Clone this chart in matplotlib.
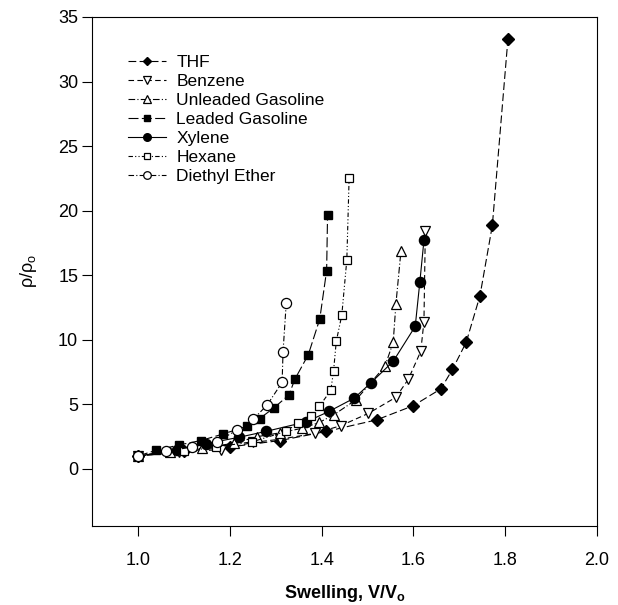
import matplotlib.pyplot as plt

plt.rcParams['font.family'] = ['Liberation Sans', 'DejaVu Sans']

# ---- data ----
thf_x = [1.0, 1.10, 1.20, 1.31, 1.41, 1.52, 1.60, 1.66, 1.685, 1.715, 1.745, 1.772, 1.806]
thf_y = [1.0, 1.35, 1.7, 2.2, 2.9, 3.8, 4.9, 6.2, 7.7, 9.8, 13.4, 18.85, 33.3]

benz_x = [1.0, 1.09, 1.18, 1.25, 1.31, 1.385, 1.442, 1.502, 1.562, 1.589, 1.616, 1.623, 1.626]
benz_y = [1.0, 1.3, 1.5, 2.05, 2.3, 2.75, 3.35, 4.3, 5.55, 6.95, 9.1, 11.4, 18.4]

unl_x = [1.0, 1.07, 1.14, 1.21, 1.26, 1.31, 1.358, 1.395, 1.427, 1.475, 1.538, 1.556, 1.562, 1.573]
unl_y = [1.0, 1.3, 1.6, 2.0, 2.5, 2.8, 3.15, 3.6, 4.2, 5.35, 7.95, 9.8, 12.8, 16.9]

lead_x = [1.0, 1.04, 1.089, 1.137, 1.185, 1.237, 1.265, 1.297, 1.329, 1.342, 1.371, 1.396, 1.411, 1.413]
lead_y = [1.0, 1.45, 1.85, 2.2, 2.7, 3.3, 3.9, 4.75, 5.74, 6.96, 8.84, 11.6, 15.36, 19.65]

xyl_x = [1.0, 1.085, 1.148, 1.22, 1.278, 1.367, 1.416, 1.471, 1.507, 1.556, 1.604, 1.614, 1.623]
xyl_y = [1.0, 1.45, 1.95, 2.45, 2.9, 3.65, 4.45, 5.48, 6.65, 8.33, 11.04, 14.45, 17.7]

hex_x = [1.0, 1.10, 1.17, 1.249, 1.322, 1.349, 1.376, 1.395, 1.42, 1.426, 1.432, 1.444, 1.455, 1.46]
hex_y = [1.0, 1.35, 1.7, 2.1, 2.9, 3.55, 4.1, 4.84, 6.08, 7.55, 9.88, 11.9, 16.2, 22.55]

eth_x = [1.0, 1.06, 1.118, 1.172, 1.215, 1.251, 1.281, 1.314, 1.316, 1.323]
eth_y = [1.0, 1.35, 1.7, 2.1, 3.0, 3.85, 4.93, 6.7, 9.05, 12.85]

# ---- plotting ----
fig = plt.figure(figsize=(6.18, 6.05), dpi=100)
ax = fig.add_axes([0.149, 0.131, 0.817, 0.841])

lw = 0.8
ms = 6.8
ax.plot(thf_x, thf_y, color='k', lw=lw, ls=(0, (7, 3)), marker='D', ms=6,
        mfc='k', mec='k', label='THF')
ax.plot(benz_x, benz_y, color='k', lw=lw, ls=(0, (5, 3)), marker='v', ms=ms + 1,
        mfc='white', mec='k', mew=0.9, label='Benzene')
ax.plot(unl_x, unl_y, color='k', lw=lw, ls=(0, (6, 2, 1, 2)), marker='^', ms=ms + 1,
        mfc='white', mec='k', mew=0.9, label='Unleaded Gasoline')
ax.plot(lead_x, lead_y, color='k', lw=lw, ls=(0, (9, 3)), marker='s', ms=ms - 0.5,
        mfc='k', mec='k', label='Leaded Gasoline')
ax.plot(xyl_x, xyl_y, color='k', lw=lw, ls='-', marker='o', ms=ms + 0.5,
        mfc='k', mec='k', label='Xylene')
ax.plot(hex_x, hex_y, color='k', lw=lw, ls=(0, (4, 2, 1, 2, 1, 2)), marker='s', ms=ms - 0.5,
        mfc='white', mec='k', mew=0.9, label='Hexane')
ax.plot(eth_x, eth_y, color='k', lw=lw, ls=(0, (5, 2, 1, 2)), marker='o', ms=ms + 0.5,
        mfc='white', mec='k', mew=0.9, label='Diethyl Ether')

ax.set_xlim(0.9, 2.0)
ax.set_ylim(-4.4, 35)
ax.set_xticks([1.0, 1.2, 1.4, 1.6, 1.8, 2.0])
ax.set_yticks([0, 5, 10, 15, 20, 25, 30, 35])
ax.tick_params(direction='out', length=7, width=0.8, labelsize=13)
ax.tick_params(axis='y', pad=3)
ax.tick_params(axis='x', pad=12)
for s in ax.spines.values():
    s.set_linewidth(0.8)

ax.set_xlabel('Swelling, V/V$_\\mathregular{o}$', fontsize=13, fontweight='bold', labelpad=10)
ax.set_ylabel('\u03c1/\u03c1$_\\mathregular{o}$', fontsize=13, labelpad=14)

ax.legend(loc='upper left', bbox_to_anchor=(0.05, 0.945), frameon=False, fontsize=12.5,
          handlelength=2.2, handletextpad=0.6, labelspacing=0.22, borderaxespad=0.2,
          markerscale=0.75)

plt.savefig('out.png', dpi=100)
